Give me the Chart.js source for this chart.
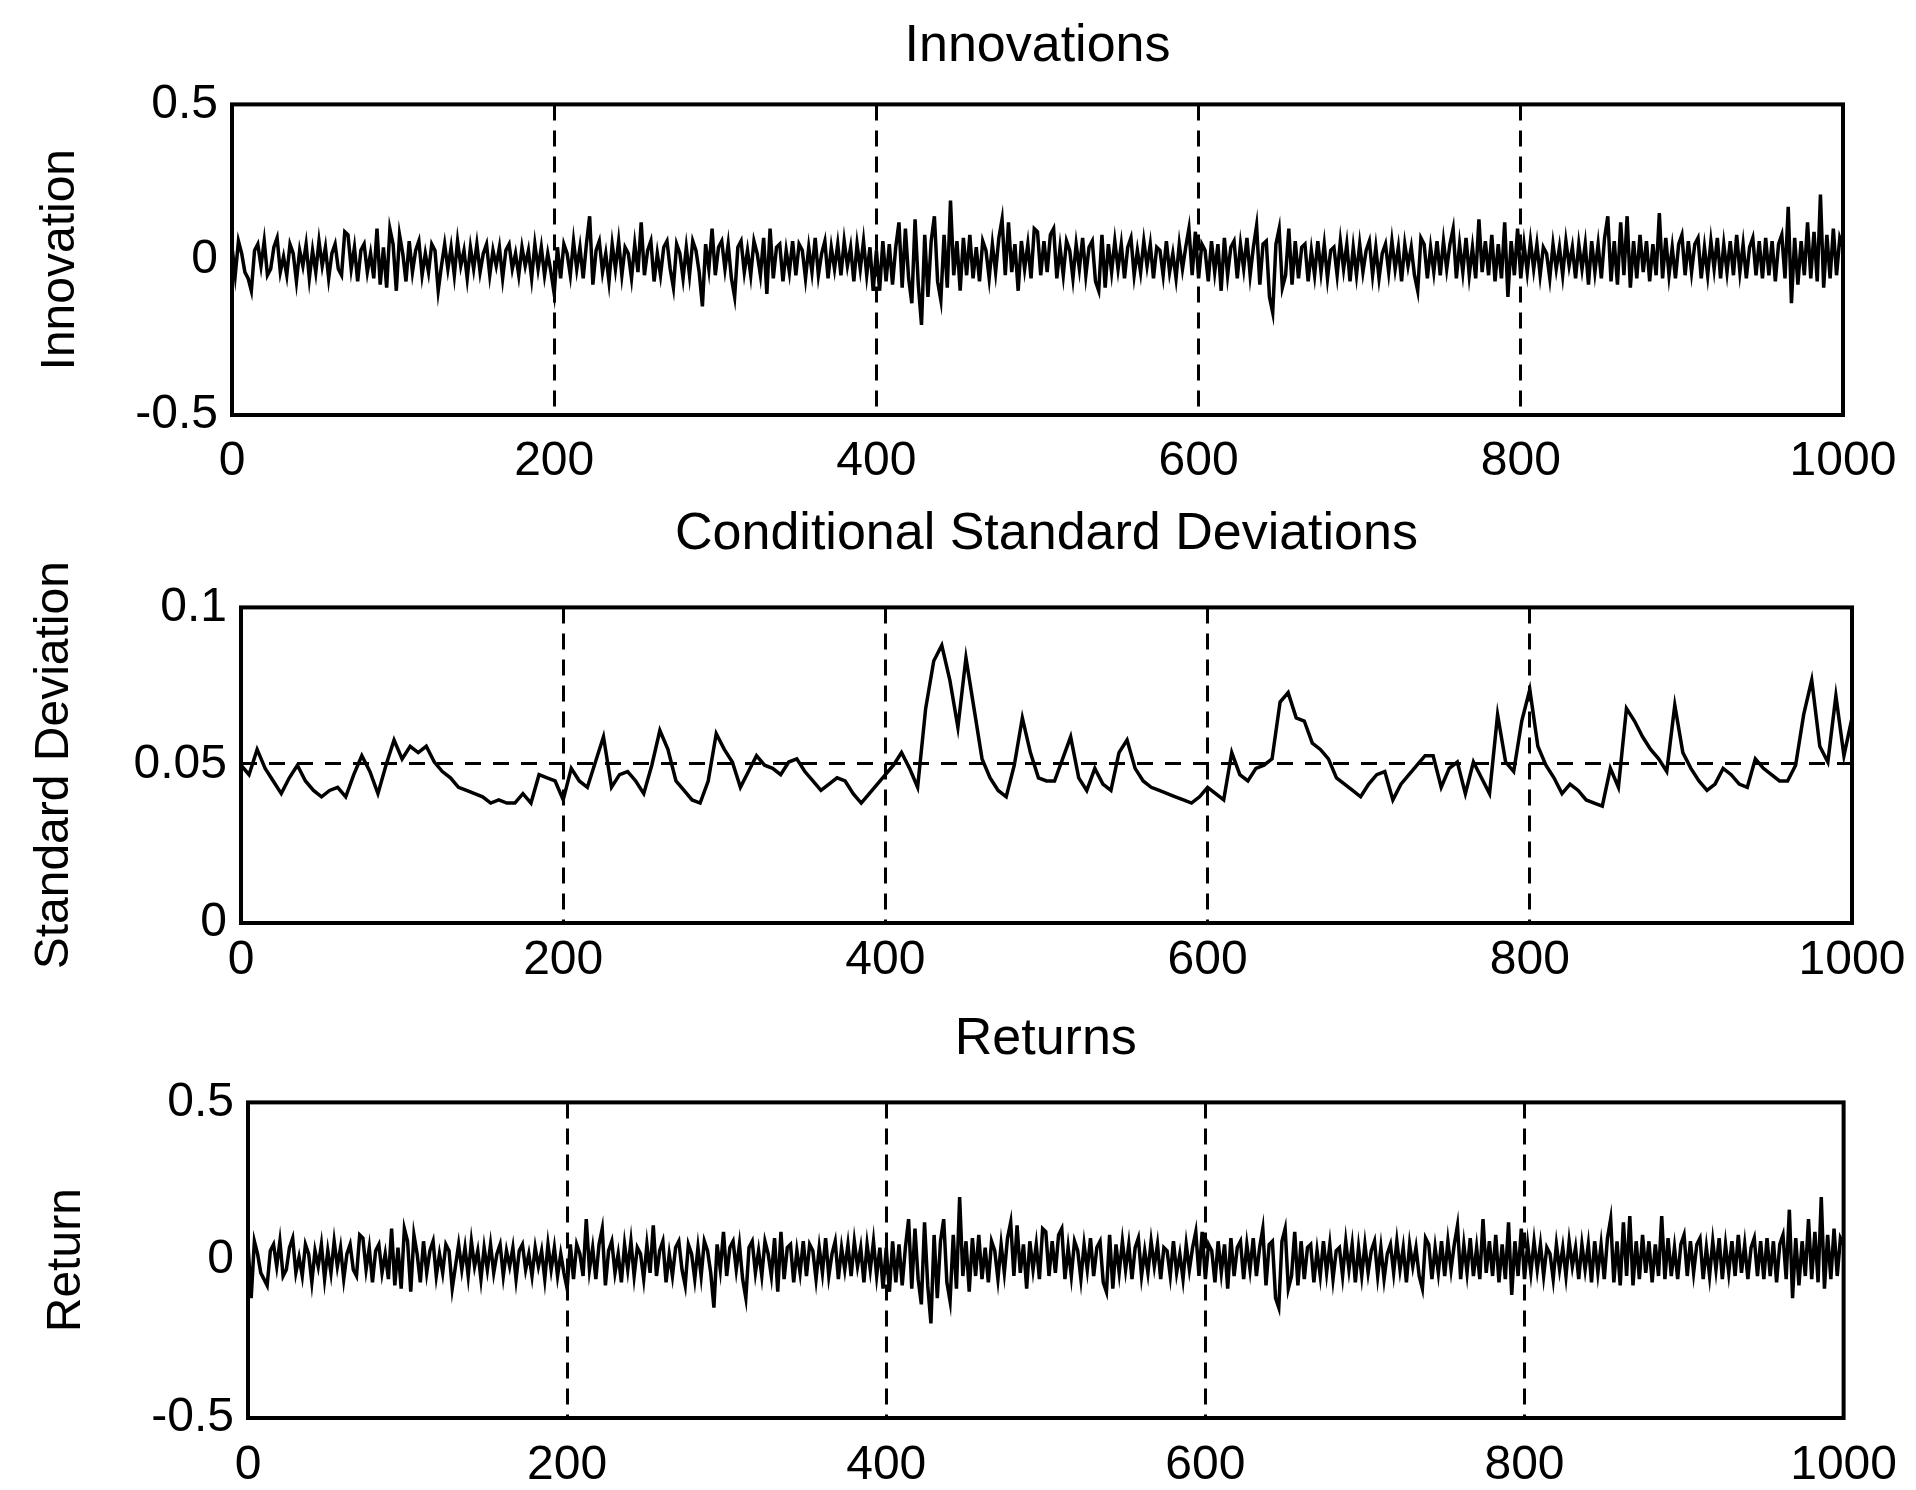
<!DOCTYPE html>
<html>
<head>
<meta charset="utf-8">
<title>Innovations / Conditional Standard Deviations / Returns</title>
<script src="https://cdn.jsdelivr.net/npm/chart.js@4.4.1/dist/chart.umd.min.js"></script>
<style>
  html, body { margin: 0; padding: 0; background: #fff; }
  #wrap { position: relative; width: 1916px; height: 1490px; }
  canvas { position: absolute; left: 0; }
</style>
</head>
<body>
<div id="wrap">
  <canvas id="chart1" width="1916" height="500" style="top:0px"></canvas>
  <canvas id="chart2" width="1916" height="500" style="top:500px"></canvas>
  <canvas id="chart3" width="1916" height="490" style="top:1000px"></canvas>
</div>
<script>
// x axis: observation index 0..1000
const xTicks = [0, 200, 400, 600, 800, 1000];
const innovTicks = [-0.5, 0, 0.5];
const sigmaTicks = [0, 0.05, 0.1];
const returnTicks = [-0.5, 0, 0.5];

// innovations, read every 2nd observation (0, 2, 4 ... 1000), 25 per row
const innovStep = 2;
const innovations = [
  .04,-.05,.06,.02,-.04,-.06,-.1,.03,.05,-.02,.06,-.05,-.03,.04,.07,-.04,.01,-.05,.05,.02,-.07,.03,-.02,.05,-.06,
  .03,-.04,.06,-.02,.04,-.06,.02,.05,-.03,-.05,.09,.08,-.03,.04,-.07,.03,.05,-.04,.02,-.06,.1,-.08,.04,-.09,.1,
  .05,-.1,.08,.02,-.07,.06,-.04,.03,.06,-.05,.02,-.04,.05,.03,-.1,-.02,.05,-.03,.04,-.05,.06,-.02,.03,-.06,.04,
  -.03,.05,-.04,.02,.05,-.05,.03,-.02,.04,-.06,.03,.05,-.03,.02,-.05,.04,-.02,.03,-.06,.05,-.03,.04,-.05,.02,-.04,
  -.11,.04,-.06,.05,.02,-.05,.06,-.03,.04,-.06,.05,.14,-.08,.03,.06,-.04,.02,-.07,.05,-.03,.06,-.05,.04,.02,-.06,
  .05,-.04,.12,-.05,.03,.06,-.07,.02,-.05,.04,.06,-.03,-.09,.05,.02,-.06,.04,-.05,.06,.03,-.04,-.15,.05,-.03,.1,
  -.05,.04,.06,-.03,.05,-.06,-.12,.04,.06,-.04,.03,-.05,.06,.02,-.05,.07,-.11,.1,-.06,.04,.05,-.07,.03,-.04,.06,
  -.05,.05,.03,-.06,.04,-.04,.07,-.05,.02,.06,-.06,.04,-.03,.05,-.05,.06,-.02,.04,-.07,.05,-.03,.06,-.05,.04,-.1,
  .03,-.1,.06,-.07,.05,-.08,.04,.12,-.09,.1,-.06,-.14,.13,-.08,-.21,.08,-.12,.06,.14,-.07,-.13,.08,-.09,.19,-.05,
  .06,-.1,.07,-.05,.08,-.06,.04,-.07,.06,.03,-.06,.05,-.04,.07,.13,-.05,.12,-.04,.05,-.1,.06,-.03,.05,-.06,.1,
  .09,-.05,.06,-.04,.08,.1,-.06,.04,-.05,.06,.03,-.06,.05,-.03,.07,-.05,.04,.06,-.07,-.1,.08,-.09,.05,-.04,.06,
  -.03,.05,-.06,.04,.07,-.05,.03,-.04,.06,-.02,.05,-.06,.04,.03,-.05,.06,-.04,.02,-.06,.05,-.03,.04,.1,-.05,.09,
  -.06,.05,.03,-.07,.06,-.04,.05,-.1,.07,-.05,.04,.06,-.06,.05,-.03,.07,-.05,.04,.11,-.08,.05,.06,-.12,-.17,.05,
  .1,-.09,-.05,.1,-.08,.06,-.06,.04,.05,-.07,.03,-.05,.06,-.04,.05,-.06,.03,.04,-.05,.06,-.03,.05,-.07,.04,-.05,
  .05,-.04,.03,.06,-.05,.04,-.06,.02,.05,-.04,.06,-.03,.04,-.07,.05,-.02,.04,-.05,-.1,.07,.05,-.06,.04,-.04,.06,
  -.05,.06,-.03,.05,.1,-.06,.05,-.04,.07,-.05,.04,-.06,.13,-.04,.06,-.05,.08,-.07,.05,-.06,.12,-.12,.06,-.05,.1,
  -.06,.05,-.04,.06,-.03,.05,-.05,.04,.02,-.06,.05,-.03,.04,-.05,.06,-.02,.04,-.06,.05,-.03,.05,-.08,.06,-.04,.05,
  -.06,.07,.14,-.07,.06,-.08,.12,-.05,.14,-.09,.06,-.06,.08,-.04,.06,-.07,.05,-.05,.15,-.06,.07,-.05,.04,-.06,.05,
  .08,-.05,.06,-.04,.05,.07,-.06,.04,-.05,.06,-.03,.07,-.06,.05,-.04,.06,-.05,.08,-.04,.05,-.06,.04,.07,-.05,.06,
  -.06,.07,-.05,.06,-.07,.05,.08,-.06,.17,-.14,.07,-.08,.06,-.05,.12,-.06,.09,-.07,.21,-.09,.08,-.06,.1,-.05,.07,
  .04
];

// conditional standard deviations, every 5th observation
const sigmaStep = 5;
const sigmas = [
  .050,.047,.055,.049,.045,.041,.046,.050,.045,.042,
  .040,.042,.043,.040,.047,.053,.048,.041,.050,.058,
  .052,.056,.054,.056,.051,.048,.046,.043,.042,.041,
  .040,.038,.039,.038,.038,.041,.038,.047,.046,.045,
  .039,.049,.045,.043,.051,.059,.043,.047,.048,.045,
  .041,.050,.061,.055,.045,.042,.039,.038,.045,.060,
  .055,.051,.043,.048,.053,.050,.049,.047,.051,.052,
  .048,.045,.042,.044,.046,.045,.041,.038,.041,.044,
  .047,.050,.054,.049,.043,.068,.083,.088,.077,.062,
  .084,.068,.052,.046,.042,.040,.050,.065,.054,.046,
  .045,.045,.052,.059,.046,.042,.049,.044,.042,.054,
  .058,.049,.045,.043,.042,.041,.040,.039,.038,.040,
  .043,.041,.039,.054,.047,.045,.049,.050,.052,.070,
  .073,.065,.064,.057,.055,.052,.046,.044,.042,.040,
  .044,.047,.048,.039,.044,.047,.050,.053,.053,.043,
  .049,.051,.041,.051,.046,.041,.066,.051,.048,.064,
  .074,.056,.050,.046,.041,.044,.042,.039,.038,.037,
  .049,.043,.068,.064,.059,.055,.052,.048,.069,.054,
  .049,.045,.042,.044,.049,.047,.044,.043,.052,.049,
  .047,.045,.045,.050,.066,.077,.056,.051,.072,.053,
  .065
];
const sigmaLevel = 0.0505; // dashed reference level

// returns, every 2nd observation, 25 per row
const returnStep = 2;
const returns = [
  .05,-.12,.06,.02,-.04,-.06,-.08,.03,.05,-.02,.06,-.05,-.03,.04,.07,-.04,.01,-.05,.05,.02,-.07,.03,-.02,.05,-.06,
  .03,-.04,.06,-.02,.04,-.06,.02,.05,-.03,-.05,.08,.07,-.03,.04,-.07,.03,.05,-.04,.02,-.06,.1,-.08,.04,-.09,.1,
  .06,-.1,.08,.02,-.07,.06,-.04,.03,.06,-.05,.02,-.04,.05,.03,-.09,-.02,.05,-.03,.04,-.05,.06,-.02,.03,-.06,.04,
  -.03,.05,-.04,.02,.05,-.05,.03,-.02,.04,-.06,.03,.05,-.03,.02,-.05,.04,-.02,.03,-.06,.05,-.03,.04,-.05,.02,-.04,
  -.09,.05,-.06,.05,.02,-.05,.13,-.03,.04,-.06,.05,.1,-.08,.03,.06,-.04,.02,-.07,.05,-.03,.06,-.05,.04,.02,-.06,
  .05,-.04,.11,-.05,.03,.06,-.07,.02,-.05,.04,.06,-.03,-.08,.05,.02,-.06,.04,-.05,.06,.03,-.04,-.15,.05,-.03,.09,
  -.05,.04,.06,-.03,.05,-.06,-.12,.04,.06,-.04,.03,-.05,.06,.02,-.05,.07,-.1,.09,-.06,.04,.05,-.07,.03,-.04,.06,
  -.05,.05,.03,-.06,.04,-.04,.07,-.05,.02,.06,-.06,.04,-.03,.05,-.05,.06,-.02,.04,-.07,.05,-.03,.06,-.05,.04,-.09,
  .04,-.1,.06,-.07,.05,-.08,.04,.13,-.09,.1,-.06,-.14,.12,-.08,-.2,.08,-.12,.06,.13,-.07,-.13,.08,-.09,.2,-.05,
  .06,-.1,.07,-.05,.08,-.06,.04,-.07,.06,.03,-.06,.05,-.04,.07,.12,-.05,.11,-.04,.05,-.09,.06,-.03,.05,-.06,.1,
  .09,-.05,.06,-.04,.08,.1,-.06,.04,-.05,.06,.03,-.06,.05,-.03,.07,-.05,.04,.06,-.07,-.1,.08,-.09,.05,-.04,.06,
  -.03,.05,-.06,.04,.07,-.05,.03,-.04,.06,-.02,.05,-.06,.04,.03,-.05,.06,-.04,.02,-.06,.05,-.03,.04,.09,-.05,.09,
  -.06,.05,.03,-.07,.06,-.04,.05,-.09,.07,-.05,.04,.06,-.06,.05,-.03,.07,-.05,.04,.1,-.08,.05,.06,-.12,-.15,.06,
  .1,-.09,-.05,.09,-.08,.06,-.06,.04,.05,-.07,.03,-.05,.06,-.04,.05,-.06,.03,.04,-.05,.06,-.03,.05,-.07,.04,-.05,
  .05,-.04,.03,.06,-.05,.04,-.06,.02,.05,-.04,.06,-.03,.04,-.07,.05,-.02,.04,-.05,-.09,.07,.05,-.06,.04,-.04,.06,
  -.05,.06,-.03,.05,.11,-.06,.05,-.04,.07,-.05,.04,-.06,.13,-.04,.06,-.05,.08,-.07,.05,-.06,.12,-.11,.06,-.05,.1,
  -.06,.05,-.04,.06,-.03,.05,-.05,.04,.02,-.06,.05,-.03,.04,-.05,.06,-.02,.04,-.06,.05,-.03,.05,-.07,.06,-.04,.05,
  -.06,.07,.13,-.07,.06,-.08,.12,-.05,.14,-.08,.06,-.06,.08,-.04,.06,-.07,.05,-.05,.14,-.06,.07,-.05,.04,-.06,.05,
  .08,-.05,.06,-.04,.05,.07,-.06,.04,-.05,.06,-.03,.07,-.06,.05,-.04,.06,-.05,.08,-.04,.05,-.06,.04,.07,-.05,.06,
  -.06,.07,-.05,.06,-.07,.05,.08,-.06,.16,-.12,.07,-.08,.06,-.05,.13,-.06,.09,-.07,.2,-.09,.08,-.06,.1,-.05,.07,
  .05
];

Chart.defaults.font.family = "'Liberation Sans', Arial, Helvetica, sans-serif";
Chart.defaults.color = '#000';

function toPoints(values, step) {
  return values.map((v, i) => ({ x: i * step, y: v }));
}

// MATLAB style closed box round the axes
const boxFrame = {
  id: 'boxFrame',
  afterDraw(chart) {
    const { ctx, chartArea } = chart;
    ctx.save();
    ctx.strokeStyle = '#000';
    ctx.lineWidth = 4;
    ctx.strokeRect(chartArea.left, chartArea.top,
      chartArea.right - chartArea.left, chartArea.bottom - chartArea.top);
    ctx.restore();
  }
};

function makePanel(id, cfg) {
  return new Chart(document.getElementById(id), {
    type: 'line',
    data: { datasets: cfg.datasets },
    options: {
      responsive: false,
      animation: false,
      events: [],
      layout: { padding: cfg.pad },
      elements: { point: { radius: 0 }, line: { tension: 0 } },
      plugins: {
        legend: { display: false },
        tooltip: { enabled: false },
        title: {
          display: true,
          text: cfg.title,
          fullSize: false,
          color: '#000',
          font: { size: 52, weight: 'normal', lineHeight: 1.2 },
          padding: { top: 0, bottom: cfg.titleGap }
        }
      },
      scales: {
        x: {
          type: 'linear',
          min: 0,
          max: 1000,
          afterBuildTicks: s => { s.ticks = xTicks.map(v => ({ value: v })); },
          afterFit: s => { s.height = cfg.xAxisH; },
          grid: { color: '#000', lineWidth: 3, drawTicks: false },
          border: { display: false, dash: [16, 10] },
          ticks: {
            autoSkip: false, maxRotation: 0, padding: cfg.xTickPad,
            font: { size: 48 }, callback: v => String(v)
          }
        },
        y: {
          min: cfg.yTicks[0],
          max: cfg.yTicks[cfg.yTicks.length - 1],
          afterBuildTicks: s => { s.ticks = cfg.yTicks.map(v => ({ value: v })); },
          afterFit: s => { s.width = cfg.yAxisW; },
          grid: { display: false, drawTicks: false },
          border: { display: false },
          ticks: { padding: 14, font: { size: 48 }, callback: v => String(v) },
          title: {
            display: true,
            text: cfg.yLabel,
            font: { size: 48, lineHeight: 1.2 },
            padding: { top: cfg.yTitlePad, bottom: 0 }
          }
        }
      }
    },
    plugins: [boxFrame]
  });
}

makePanel('chart1', {
  title: 'Innovations',
  yLabel: 'Innovation',
  yTicks: innovTicks,
  pad: { top: 15, left: 0, right: 73, bottom: 0 },
  titleGap: 27, xAxisH: 85, xTickPad: 18, yAxisW: 232, yTitlePad: 32,
  datasets: [{
    data: toPoints(innovations, innovStep),
    borderColor: '#000',
    borderWidth: 3.5
  }]
});

makePanel('chart2', {
  title: 'Conditional Standard Deviations',
  yLabel: 'Standard Deviation',
  yTicks: sigmaTicks,
  pad: { top: 3, left: 0, right: 64, bottom: 0 },
  titleGap: 42, xAxisH: 77, xTickPad: 9, yAxisW: 241, yTitlePad: 26,
  datasets: [{
    data: toPoints(sigmas, sigmaStep),
    borderColor: '#000',
    borderWidth: 3.5
  }, {
    data: [{ x: 0, y: sigmaLevel }, { x: 1000, y: sigmaLevel }],
    borderColor: '#000',
    borderWidth: 3,
    borderDash: [16, 12]
  }]
});

makePanel('chart3', {
  title: 'Returns',
  yLabel: 'Return',
  yTicks: returnTicks,
  pad: { top: 8, left: 0, right: 59, bottom: 0 },
  titleGap: 32, xAxisH: 72, xTickPad: 19, yAxisW: 248, yTitlePad: 38,
  datasets: [{
    data: toPoints(returns, returnStep),
    borderColor: '#000',
    borderWidth: 3.5
  }]
});
</script>
</body>
</html>
